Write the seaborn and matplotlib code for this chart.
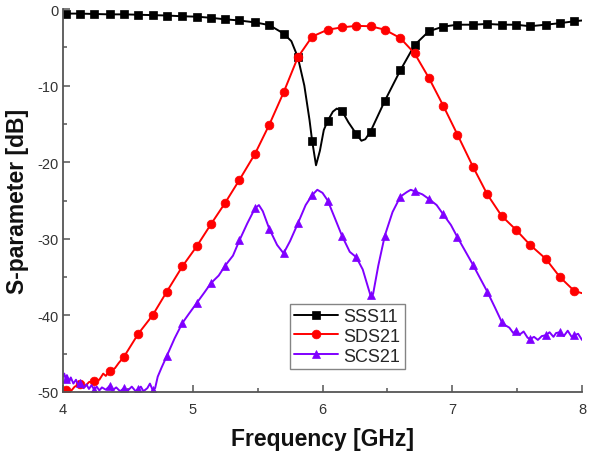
import numpy as np
import pandas as pd
import matplotlib
matplotlib.use("Agg")
import matplotlib.pyplot as plt
from matplotlib.ticker import MultipleLocator
import seaborn as sns

# ---------------- data ----------------
# frequencies at which the markers are drawn
marker_freq = [4.02, 4.13, 4.24, 4.36, 4.47, 4.58, 4.69, 4.80, 4.92, 5.03, 5.14, 5.25,
               5.36, 5.48, 5.59, 5.70, 5.81, 5.92, 6.04, 6.15, 6.26, 6.37, 6.48, 6.60,
               6.71, 6.82, 6.93, 7.04, 7.16, 7.27, 7.38, 7.49, 7.60, 7.72, 7.83, 7.94]

sss11_freq = [4.00, 4.02, 4.13, 4.24, 4.36, 4.47, 4.58, 4.69, 4.80, 4.92, 5.03, 5.14,
              5.25, 5.36, 5.48, 5.59, 5.70, 5.76, 5.81, 5.86, 5.90, 5.92, 5.95, 5.98,
              6.01, 6.04, 6.08, 6.11, 6.15, 6.20, 6.26, 6.30, 6.33, 6.37, 6.48, 6.60,
              6.71, 6.82, 6.93, 7.04, 7.16, 7.27, 7.38, 7.49, 7.60, 7.72, 7.83, 7.94, 8.00]
sss11 = [-0.6, -0.6, -0.6, -0.65, -0.7, -0.7, -0.75, -0.8, -0.85, -0.95, -1.0, -1.15,
         -1.35, -1.5, -1.75, -2.1, -3.2, -4.2, -6.3, -10.0, -14.5, -17.2, -20.4, -18.5,
         -15.8, -14.6, -13.4, -13.0, -13.3, -14.8, -16.3, -17.2, -17.0, -16.0, -12.0, -8.0,
         -4.7, -2.9, -2.3, -2.05, -2.05, -1.95, -2.05, -2.05, -2.25, -2.05, -1.85, -1.6, -1.5]

sds21_freq = [4.00, 4.02, 4.06, 4.09, 4.13, 4.17, 4.20, 4.24, 4.28, 4.31, 4.33, 4.36,
              4.40, 4.43, 4.47, 4.58, 4.69, 4.80, 4.92, 5.03, 5.14, 5.25, 5.36, 5.48,
              5.59, 5.70, 5.81, 5.92, 6.04, 6.15, 6.26, 6.37, 6.48, 6.60, 6.71, 6.82,
              6.93, 7.04, 7.16, 7.27, 7.38, 7.49, 7.60, 7.72, 7.83, 7.94, 8.00]
sds21 = [-50.0, -49.7, -49.9, -49.3, -49.0, -49.3, -48.7, -48.6, -48.4, -47.6, -47.9, -47.2,
         -46.9, -46.2, -45.4, -42.4, -40.0, -36.9, -33.6, -31.0, -28.1, -25.3, -22.3, -18.9,
         -15.1, -10.9, -6.3, -3.6, -2.7, -2.4, -2.2, -2.25, -2.7, -3.8, -5.8, -9.0,
         -12.6, -16.4, -20.6, -24.2, -27.0, -28.8, -30.8, -32.6, -35.0, -36.8, -37.1]

scs21_freq = [4.00, 4.01, 4.02, 4.03, 4.05, 4.06, 4.08, 4.10, 4.12, 4.13, 4.14, 4.16,
              4.18, 4.20, 4.22, 4.24, 4.26, 4.28, 4.30, 4.33, 4.36, 4.38, 4.41, 4.44,
              4.47, 4.50, 4.53, 4.56, 4.58, 4.60, 4.62, 4.65, 4.67, 4.69, 4.71, 4.73,
              4.76, 4.80, 4.86, 4.92, 4.97, 5.03, 5.09, 5.14, 5.20, 5.25, 5.31, 5.36,
              5.42, 5.48, 5.51, 5.54, 5.59, 5.65, 5.70, 5.75, 5.81, 5.87, 5.92, 5.96,
              6.00, 6.04, 6.10, 6.15, 6.21, 6.26, 6.31, 6.37, 6.39, 6.43, 6.48, 6.54,
              6.60, 6.65, 6.68, 6.71, 6.77, 6.82, 6.88, 6.93, 6.99, 7.04, 7.10, 7.16,
              7.21, 7.27, 7.33, 7.38, 7.41, 7.44, 7.47, 7.49, 7.52, 7.55, 7.58, 7.60,
              7.63, 7.66, 7.69, 7.72, 7.75, 7.78, 7.80, 7.83, 7.86, 7.89, 7.92, 7.94,
              7.97, 8.00]
scs21 = [-48.0, -47.6, -48.3, -47.8, -48.6, -48.1, -48.9, -48.4, -49.2, -48.8, -49.0, -49.5,
         -49.0, -49.6, -49.1, -49.7, -49.3, -49.8, -49.4, -49.7, -49.2, -49.8, -49.4, -49.9,
         -49.5, -49.8, -49.3, -49.9, -49.6, -49.3, -49.9, -49.5, -48.9, -49.7, -49.5, -48.0,
         -46.8, -45.3, -43.0, -41.0, -39.8, -38.4, -37.0, -35.8, -34.8, -33.5, -32.2, -30.2,
         -28.0, -26.0, -25.6, -26.4, -28.7, -30.8, -31.9, -30.3, -28.0, -25.6, -24.3, -23.6,
         -24.0, -25.0, -27.5, -29.6, -31.7, -32.4, -34.0, -37.4, -37.2, -33.5, -29.6, -26.5,
         -24.5, -23.9, -23.6, -23.8, -24.2, -24.8, -25.6, -26.8, -28.2, -29.8, -31.6, -33.4,
         -35.0, -36.9, -39.0, -40.8, -41.3, -41.6, -42.3, -42.0, -42.5, -42.1, -42.9, -43.1,
         -42.8, -43.2, -42.7, -42.6, -42.2, -42.8, -42.3, -42.2, -42.7, -42.0, -42.8, -42.6,
         -42.4, -43.2]

series_names = ["SSS11", "SDS21", "SCS21"]
x_ticks = [4, 5, 6, 7, 8]
y_ticks = [-50, -40, -30, -20, -10, 0]

# ---------------- style ----------------
sns.set_style("ticks")
plt.rcParams["font.family"] = ["Liberation Sans", "DejaVu Sans"]
plt.rcParams["axes.unicode_minus"] = False

fig = plt.figure(figsize=(5.95, 4.56), dpi=100)
ax = fig.add_axes([63 / 595, 1 - 393 / 456, (582 - 63) / 595, (393 - 10) / 456])


def mark_idx(freq):
    return [i for i, f in enumerate(freq) if np.any(np.isclose(f, marker_freq))]


specs = [
    (sss11_freq, sss11, "#000000", "s", 5.4),
    (sds21_freq, sds21, "#ff0000", "o", 6.3),
    (scs21_freq, scs21, "#7f00ff", "^", 6.0),
]
for name, (fr, vals, col, mk, ms) in zip(series_names, specs):
    df = pd.DataFrame({"Frequency": fr, "S": vals})
    sns.lineplot(data=df, x="Frequency", y="S", ax=ax, sort=False, color=col,
                 marker=mk, markersize=ms, markevery=mark_idx(fr), mec=col, mfc=col,
                 mew=0.5, lw=1.4, label=name, legend=False)

ax.set_xlim(4, 8)
ax.set_ylim(-50, 0)
ax.set_xticks(x_ticks)
ax.set_yticks(y_ticks)
ax.xaxis.set_minor_locator(MultipleLocator(0.5))
ax.yaxis.set_minor_locator(MultipleLocator(5))
ax.tick_params(which="both", direction="in", colors="#555555", labelcolor="#333333",
               labelsize=10.5, width=1.1)
ax.tick_params(which="major", length=5)
ax.tick_params(which="minor", length=3)
ax.tick_params(axis="x", pad=7)
for s in ["top", "right"]:
    ax.spines[s].set_visible(False)
for s in ["left", "bottom"]:
    ax.spines[s].set_color("#555555")
    ax.spines[s].set_linewidth(1.3)

ax.set_xlabel("Frequency [GHz]", fontsize=16.5, fontweight="bold", labelpad=8, color="#111111")
ax.set_ylabel("S-parameter [dB]", fontsize=16.5, fontweight="bold", labelpad=6, color="#111111")

leg = ax.legend(loc="lower left", bbox_to_anchor=(0.437, 0.06), fontsize=13,
                frameon=True, fancybox=False, edgecolor="#666666", handlelength=2.4,
                borderpad=0.25, labelspacing=0.15, handletextpad=0.3, borderaxespad=0)
leg.get_frame().set_linewidth(1.0)

fig.savefig("out.png", dpi=100)
